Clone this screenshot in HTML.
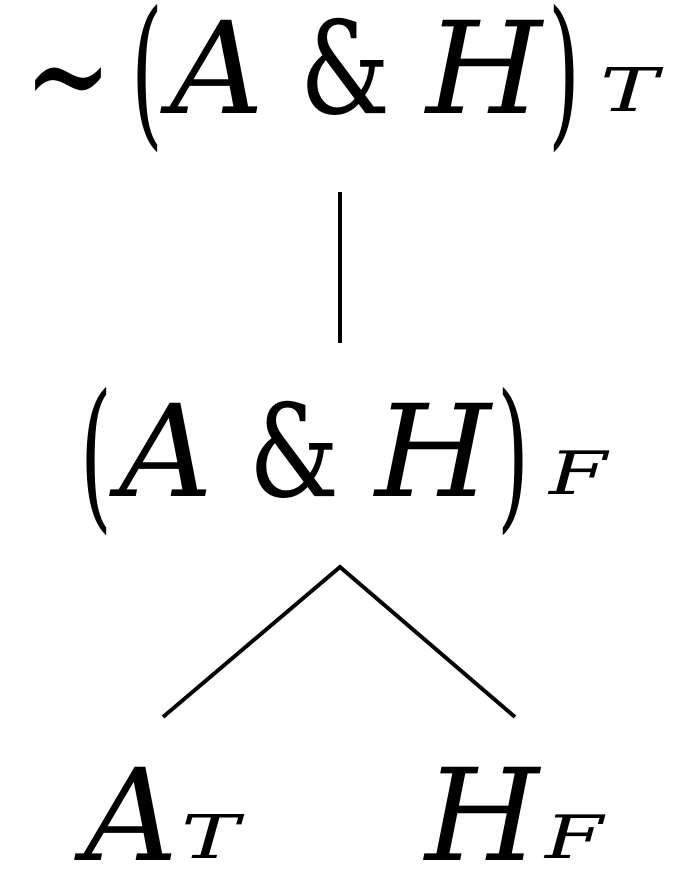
<!DOCTYPE html>
<html><head><meta charset="utf-8"><style>
html,body{margin:0;padding:0;background:#fff;}
svg{display:block}
text{font-family:"DejaVu Serif","Liberation Serif",serif;fill:#000}
.i{font-style:italic}
</style></head><body>
<svg width="684" height="886" viewBox="0 0 684 886" xmlns="http://www.w3.org/2000/svg">
<!-- line 1 -->
<text x="24" y="126" font-size="150" textLength="88" lengthAdjust="spacingAndGlyphs">∼</text>
<text x="131" y="127" font-size="162" textLength="32" lengthAdjust="spacingAndGlyphs">(</text>
<text class="i" x="170" y="113" font-size="128" textLength="94" lengthAdjust="spacingAndGlyphs">A</text>
<text x="300" y="113" font-size="128" textLength="90" lengthAdjust="spacingAndGlyphs">&amp;</text>
<text class="i" x="426" y="113" font-size="128" textLength="116" lengthAdjust="spacingAndGlyphs">H</text>
<text x="548" y="127" font-size="162" textLength="32" lengthAdjust="spacingAndGlyphs">)</text>
<text class="i" x="600" y="111" font-size="60" textLength="58" lengthAdjust="spacingAndGlyphs">T</text>
<line x1="340" y1="192" x2="340" y2="343" stroke="#000" stroke-width="4"/>
<!-- line 2 -->
<text x="80" y="510" font-size="162" textLength="32" lengthAdjust="spacingAndGlyphs">(</text>
<text class="i" x="119" y="496" font-size="128" textLength="94" lengthAdjust="spacingAndGlyphs">A</text>
<text x="249" y="496" font-size="128" textLength="90" lengthAdjust="spacingAndGlyphs">&amp;</text>
<text class="i" x="375" y="496" font-size="128" textLength="116" lengthAdjust="spacingAndGlyphs">H</text>
<text x="497" y="510" font-size="162" textLength="32" lengthAdjust="spacingAndGlyphs">)</text>
<text class="i" x="549" y="494" font-size="60" textLength="58" lengthAdjust="spacingAndGlyphs">F</text>
<polyline points="163,717 340,567 515,717" fill="none" stroke="#000" stroke-width="4"/>
<!-- line 3 -->
<text class="i" x="84" y="860" font-size="128" textLength="94" lengthAdjust="spacingAndGlyphs">A</text>
<text class="i" x="181" y="858" font-size="60" textLength="58" lengthAdjust="spacingAndGlyphs">T</text>
<text class="i" x="425" y="860" font-size="128" textLength="114" lengthAdjust="spacingAndGlyphs">H</text>
<text class="i" x="545" y="858" font-size="60" textLength="58" lengthAdjust="spacingAndGlyphs">F</text>
</svg>
</body></html>
